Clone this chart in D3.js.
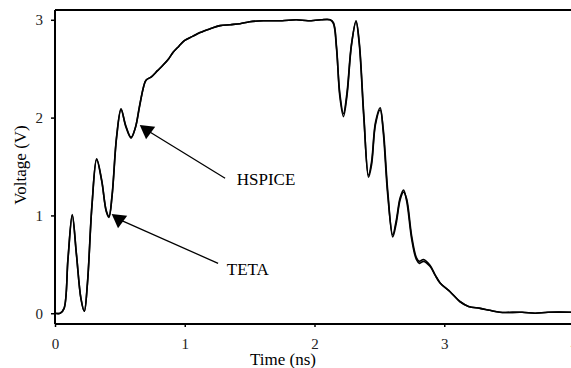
<!DOCTYPE html>
<html>
<head>
<meta charset="utf-8">
<script src="https://cdn.jsdelivr.net/npm/d3@7"></script>
<style>
    body { margin: 0; background: #fff; }
    #main-diagram { width: 571px; height: 368px; overflow: hidden; }
    svg text { font-family: 'Liberation Serif', 'Times New Roman', 'DejaVu Serif', serif; }
</style>
</head>
<body>
<div id="main-diagram"></div>
<script>
console.log('chart : script is loaded')

const fontFamily = "'Liberation Serif', 'Times New Roman', 'DejaVu Serif', serif"

// time axis (ns), shared by both traces
const times = [0, 0.04, 0.07, 0.10, 0.133, 0.165, 0.20, 0.226, 0.25, 0.285, 0.321, 0.36, 0.395, 0.416,
    0.44, 0.475, 0.509, 0.545, 0.586, 0.62, 0.65, 0.68, 0.70, 0.745, 0.79, 0.835, 0.875, 0.912, 0.955,
    1.0, 1.06, 1.118, 1.2, 1.272, 1.35, 1.426, 1.5, 1.606, 1.75, 1.86, 1.95, 2.05, 2.12, 2.146, 2.17,
    2.195, 2.223, 2.25, 2.285, 2.32, 2.345, 2.38, 2.416, 2.44, 2.47, 2.506, 2.53, 2.565, 2.603, 2.63,
    2.66, 2.686, 2.71, 2.75, 2.785, 2.809, 2.84, 2.89, 2.93, 2.968, 3.045, 3.12, 3.187, 3.277, 3.35,
    3.43, 3.6, 3.7, 3.8, 4.0]

// voltage (V)
const hspice = [0, 0, 0.05, 0.55, 1.00, 0.60, 0.15, 0.02, 0.30, 1.10, 1.57, 1.35, 1.05, 0.99,
    1.20, 1.80, 2.08, 1.92, 1.80, 1.90, 2.10, 2.30, 2.38, 2.42, 2.48, 2.54, 2.60, 2.67, 2.73,
    2.79, 2.83, 2.87, 2.91, 2.94, 2.95, 2.96, 2.98, 2.99, 2.99, 3.00, 2.99, 3.00, 3.00, 2.96, 2.70,
    2.25, 2.04, 2.25, 2.75, 2.98, 2.75, 2.00, 1.41, 1.55, 1.95, 2.10, 1.85, 1.20, 0.80, 0.95,
    1.18, 1.26, 1.15, 0.75, 0.55, 0.51, 0.53, 0.48, 0.39, 0.31, 0.22, 0.12, 0.07, 0.05, 0.03,
    0.01, 0.01, 0.00, 0.01, 0.01]

const teta = [0, 0, 0.05, 0.56, 1.01, 0.61, 0.15, 0.02, 0.31, 1.11, 1.58, 1.36, 1.04, 0.98,
    1.21, 1.81, 2.09, 1.91, 1.79, 1.90, 2.11, 2.30, 2.38, 2.42, 2.48, 2.54, 2.60, 2.67, 2.73,
    2.79, 2.83, 2.87, 2.91, 2.94, 2.95, 2.96, 2.98, 2.99, 2.99, 3.00, 2.99, 3.00, 3.00, 2.97, 2.72,
    2.22, 2.01, 2.22, 2.74, 2.99, 2.77, 2.03, 1.39, 1.52, 1.93, 2.08, 1.88, 1.24, 0.78, 0.92,
    1.16, 1.24, 1.17, 0.78, 0.57, 0.53, 0.55, 0.49, 0.39, 0.31, 0.22, 0.12, 0.07, 0.05, 0.03,
    0.01, 0.01, 0.00, 0.01, 0.01]

const xTicks = [0, 1, 2, 3, 4]
const yTicks = [0, 1, 2, 3]

// labels: arrow head, line end, text position (all in data units)
const annotations = [
    { label: 'HSPICE', tip: [0.709, 1.87], end: [1.311, 1.38], text: [1.401, 1.31] },
    { label: 'TETA', tip: [0.493, 0.96], end: [1.257, 0.51], text: [1.324, 0.39] }
]

const width = 571
const height = 368
const margin = { top: 10, right: 0, bottom: 44, left: 55 }

const svg = d3.select('#main-diagram')
    .append('svg')
    .attr('width', width)
    .attr('height', height)
    .attr('font-family', fontFamily)

const x = d3.scaleLinear()
    .domain([0, 4])
    .range([margin.left, 574])

const y = d3.scaleLinear()
    .domain([-0.11, 3.1])
    .range([height - margin.bottom, margin.top])

// frame: left, top and bottom (right side is cut off)
const frame = svg.append('g')
    .attr('stroke', '#000')
    .attr('stroke-width', 2)
frame.append('line')
    .attr('x1', margin.left).attr('x2', margin.left)
    .attr('y1', margin.top).attr('y2', height - margin.bottom)
frame.append('line')
    .attr('x1', margin.left).attr('x2', width)
    .attr('y1', margin.top).attr('y2', margin.top)
frame.append('line')
    .attr('x1', margin.left).attr('x2', width)
    .attr('y1', height - margin.bottom).attr('y2', height - margin.bottom)

// x axis
const xAxis = svg.append('g')
    .attr('transform', `translate(0, ${height - margin.bottom})`)
    .call(d3.axisBottom(x).tickValues(xTicks).tickSize(3).tickPadding(11).tickFormat(d3.format('d')))
xAxis.attr('font-family', fontFamily).attr('font-size', 15)
xAxis.select('.domain').remove()
xAxis.selectAll('line').attr('stroke-width', 1.5)
xAxis.selectAll('text').attr('fill', '#222')

// y axis
const yAxis = svg.append('g')
    .attr('transform', `translate(${margin.left}, 0)`)
    .call(d3.axisLeft(y).tickValues(yTicks).tickSize(4).tickPadding(8).tickFormat(d3.format('d')))
yAxis.attr('font-family', fontFamily).attr('font-size', 15)
yAxis.select('.domain').remove()
yAxis.selectAll('line').attr('stroke-width', 1.5)
yAxis.selectAll('text').attr('fill', '#222')

svg.append('text')
    .attr('x', 283)
    .attr('y', 365)
    .attr('text-anchor', 'middle')
    .attr('font-size', 17)
    .text('Time (ns)')

svg.append('text')
    .attr('transform', 'translate(26, 165) rotate(-90)')
    .attr('text-anchor', 'middle')
    .attr('font-size', 17)
    .text('Voltage (V)')

// the two traces
const line = d3.line()
    .x(function (d) { return x(d[0]) })
    .y(function (d) { return y(d[1]) })
    .curve(d3.curveCatmullRom.alpha(0.5))

const series = [hspice, teta]
svg.selectAll('.trace')
    .data(series)
    .enter()
    .append('path')
    .attr('class', 'trace')
    .attr('fill', 'none')
    .attr('stroke', '#000')
    .attr('stroke-width', 1.6)
    .attr('d', function (vals) {
        return line(vals.map(function (v, i) { return [times[i], v] }))
    })

// annotations with arrow heads
const ann = svg.selectAll('.ann')
    .data(annotations)
    .enter()
    .append('g')
    .attr('class', 'ann')

ann.append('line')
    .attr('x1', function (d) { return x(d.tip[0]) })
    .attr('y1', function (d) { return y(d.tip[1]) })
    .attr('x2', function (d) { return x(d.end[0]) })
    .attr('y2', function (d) { return y(d.end[1]) })
    .attr('stroke', '#000')
    .attr('stroke-width', 1.3)

ann.append('path')
    .attr('d', d3.symbol().type(d3.symbolTriangle).size(105))
    .attr('transform', function (d) {
        return `translate(${x(d.tip[0])}, ${y(d.tip[1])}) rotate(186)`
    })
    .attr('fill', '#000')

ann.append('text')
    .attr('x', function (d) { return x(d.text[0]) })
    .attr('y', function (d) { return y(d.text[1]) })
    .attr('font-size', 17)
    .text(function (d) { return d.label })
</script>
</body>
</html>
